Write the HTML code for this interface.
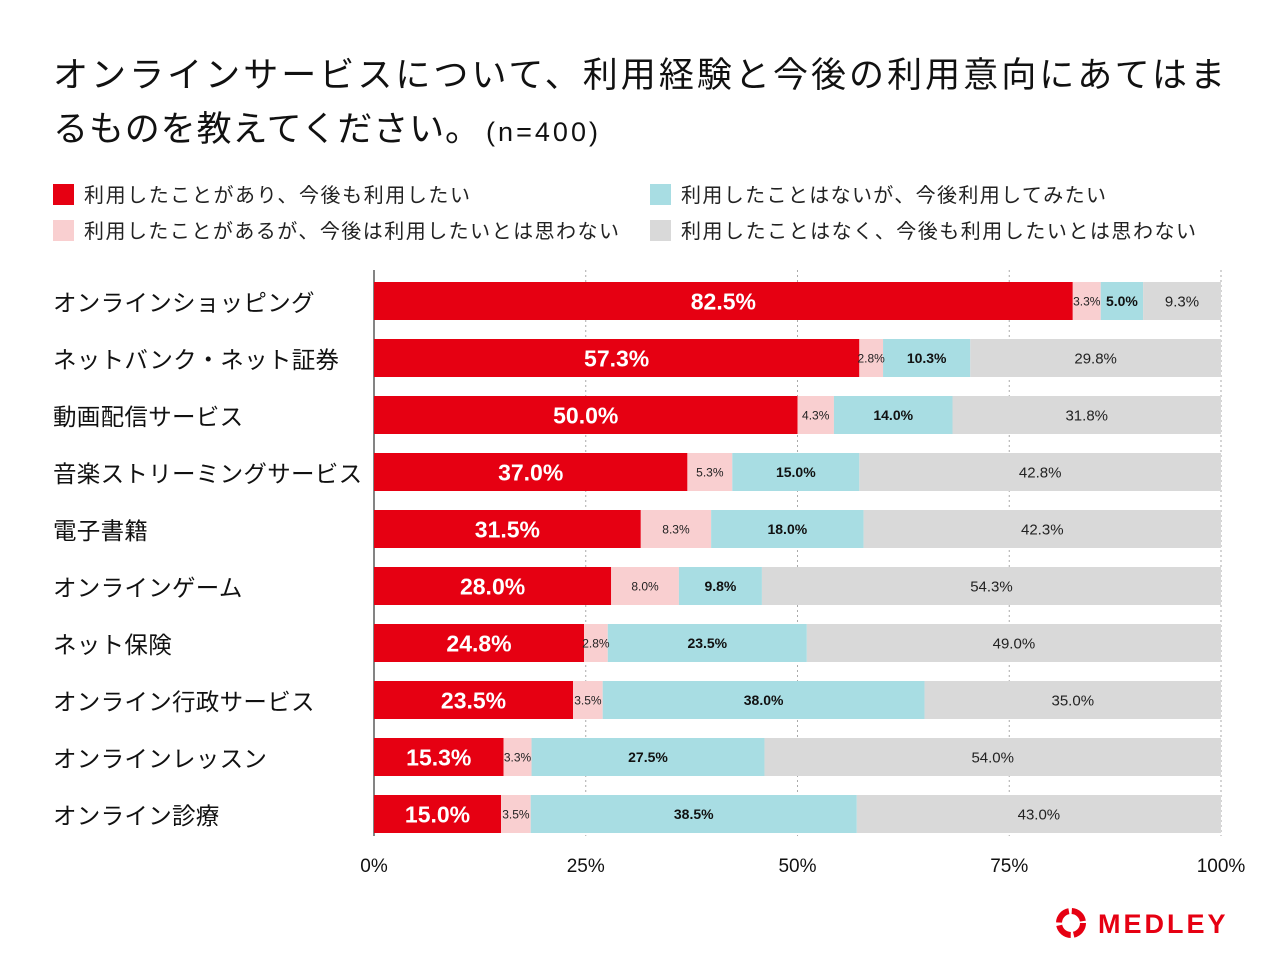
<!DOCTYPE html>
<html><head><meta charset="utf-8">
<style>
html,body{margin:0;padding:0;background:#fff;}
body{width:1280px;height:970px;overflow:hidden;font-family:"Liberation Sans","Noto Sans CJK JP",sans-serif;}
svg text{font-family:"Liberation Sans","Noto Sans CJK JP",sans-serif;}
</style></head>
<body>
<svg id="chart" width="1280" height="970">
<text x="53" y="87" font-size="35" fill="#111" textLength="1172" lengthAdjust="spacing">オンラインサービスについて、利用経験と今後の利用意向にあてはま</text>
<text x="53" y="141" font-size="35" fill="#111"><tspan textLength="427" lengthAdjust="spacing">るものを教えてください。</tspan><tspan x="486" font-size="27" textLength="112" lengthAdjust="spacing">(n=400)</tspan></text>
<g>
<rect x="53" y="184" width="21" height="21" fill="#e60012"/>
<text x="84" y="202" font-size="20" fill="#222" textLength="386" lengthAdjust="spacing">利用したことがあり、今後も利用したい</text>
<rect x="53" y="220" width="21" height="21" fill="#f9cfd0"/>
<text x="84" y="238" font-size="20" fill="#222" textLength="535" lengthAdjust="spacing">利用したことがあるが、今後は利用したいとは思わない</text>
<rect x="650" y="184" width="21" height="21" fill="#a8dde3"/>
<text x="681" y="202" font-size="20" fill="#222" textLength="425" lengthAdjust="spacing">利用したことはないが、今後利用してみたい</text>
<rect x="650" y="220" width="21" height="21" fill="#d9d9d9"/>
<text x="681" y="238" font-size="20" fill="#222" textLength="515" lengthAdjust="spacing">利用したことはなく、今後も利用したいとは思わない</text>
</g>
<g id="grid"></g>
<g id="bars"></g>
<g id="labels"></g>
<g>
<circle cx="1071" cy="923" r="12" fill="none" stroke="#e60012" stroke-width="6" stroke-dasharray="16 3"/>
<text x="1098" y="933" font-size="27" font-weight="bold" fill="#e60012" letter-spacing="3">MEDLEY</text>
</g>
</svg>
<script>
const categories=["オンラインショッピング","ネットバンク・ネット証券","動画配信サービス","音楽ストリーミングサービス","電子書籍","オンラインゲーム","ネット保険","オンライン行政サービス","オンラインレッスン","オンライン診療"];
const usedContinue=[82.5,57.3,50.0,37.0,31.5,28.0,24.8,23.5,15.3,15.0];
const usedStop=[3.3,2.8,4.3,5.3,8.3,8.0,2.8,3.5,3.3,3.5];
const newWant=[5.0,10.3,14.0,15.0,18.0,9.8,23.5,38.0,27.5,38.5];
const never=[9.3,29.8,31.8,42.8,42.3,54.3,49.0,35.0,54.0,43.0];
const ticks=[0,25,50,75,100];
const tickLabels=["0%","25%","50%","75%","100%"];

const NS="http://www.w3.org/2000/svg";
const x0=374,x1=1221,yTop=270,yBot=836,row0=282,rowStep=57,barH=38;
const xs=v=>x0+(x1-x0)*v/100;
const ys=i=>row0+i*rowStep;
function el(tag,attrs,parent,txt){const e=document.createElementNS(NS,tag);for(const k in attrs)e.setAttribute(k,attrs[k]);if(txt!==undefined)e.textContent=txt;parent.appendChild(e);return e;}
const grid=document.getElementById('grid'),bars=document.getElementById('bars'),labels=document.getElementById('labels');
ticks.forEach((t,i)=>{
  const l=el('line',{x1:xs(t),x2:xs(t),y1:yTop,y2:yBot,stroke:t===0?'#333':'#aaa','stroke-width':t===0?1.2:1,'stroke-dasharray':t===0?'none':'2 3'},grid);
  
  
  const tx=el('text',{x:xs(t),y:872,'font-size':19,'text-anchor':'middle',fill:'#111'},grid,tickLabels[i]);
  
  
});
const series=[usedContinue,usedStop,newWant,never];
const colors=['#e60012','#f9cfd0','#a8dde3','#d9d9d9'];
const names=['used-continue','used-stop','new-want','never'];
categories.forEach((c,i)=>{
  const y=ys(i);
  const cl=el('text',{x:53,y:y+29,'font-size':23.5,fill:'#111','letter-spacing':0.3},labels,c);
  
  
  let acc=0;
  series.forEach((s,k)=>{
    const v=s[i];
    const a=xs(acc),b=xs(Math.min(100,acc+v));
    const r=el('rect',{x:a,y:y,width:Math.max(0,b-a),height:barH,fill:colors[k]},bars);
    
    
    let fs,fw,fc;
    if(k===0){fs=23;fw='bold';fc='#fff';}
    else if(k===1){fs=12;fw='normal';fc='#222';}
    else if(k===2){fs=14;fw='bold';fc='#111';}
    else{fs=15;fw='normal';fc='#222';}
    const t=el('text',{x:(a+b)/2,y:y+barH/2+fs*0.36,'font-size':fs,'font-weight':fw,fill:fc,'text-anchor':'middle'},labels,v.toFixed(1)+'%');
    
    
    acc+=v;
  });
});
</script>
</body></html>
